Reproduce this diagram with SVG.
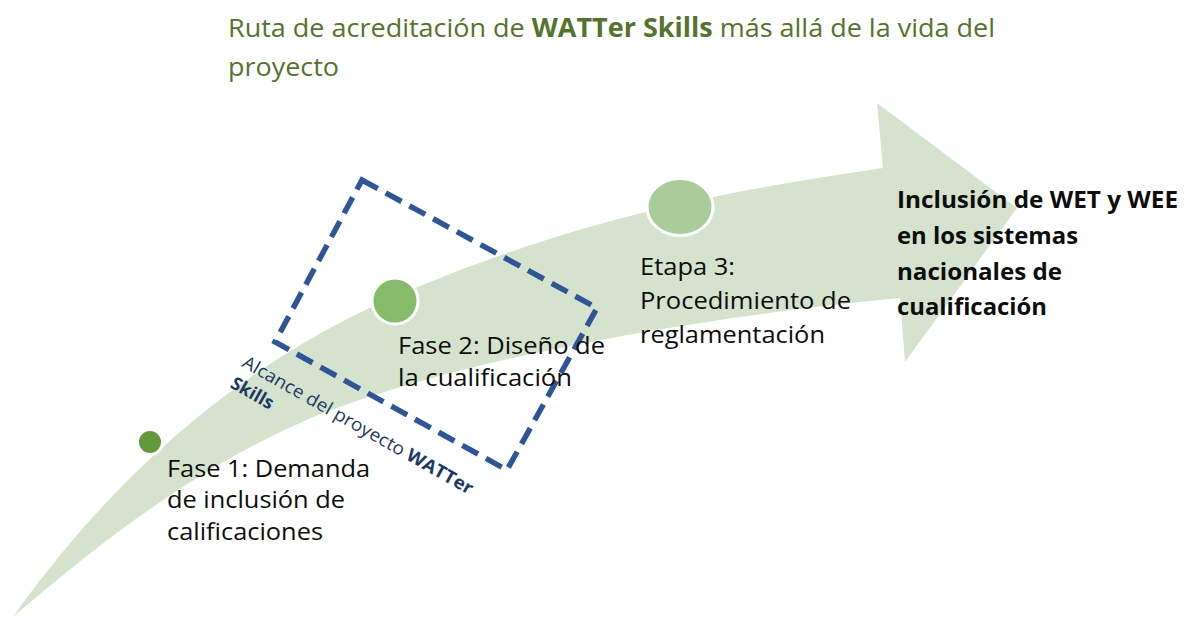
<svg xmlns="http://www.w3.org/2000/svg" width="1189" height="619" viewBox="0 0 1189 619">
<style>
  .t { font-family: "Open Sans", "Noto Sans", "Liberation Sans", sans-serif; font-size: 24px; fill: #0d0d0d; }
  .b { font-weight: bold; }
  .title { fill: #55732E; font-size: 26px; }
  .scope { font-family: "Open Sans", "Noto Sans", "Liberation Sans", sans-serif; font-size: 18px; fill: #203864; }
  .dot { stroke: #ffffff; stroke-width: 3; }
</style>
<rect width="1189" height="619" fill="#ffffff"/>
<g id="connectors">
  <path d="M13,617 C110,480 240,360 410,290 S700,195 883,168 L877,103 L1017,208 L905,362 L900,298 C650,322 420,370 300,423 S80,560 13,617 Z" fill="#D5E3CE"/>
</g>
<g id="scope">
  <polygon points="362,180 597,308 507,470 275,342" fill="none" stroke="#2F5597" stroke-width="5.5" stroke-dasharray="18,9"/>
  <g transform="translate(241,366) rotate(29.5)">
    <text class="scope" x="0" y="0" textLength="262" lengthAdjust="spacingAndGlyphs">Alcance del proyecto <tspan class="b">WATTer</tspan></text>
    <text class="scope b" x="0" y="24">Skills</text>
  </g>
</g>
<g id="title">
  <text class="t title" x="228" y="37" textLength="767" lengthAdjust="spacingAndGlyphs">Ruta de acreditación de <tspan class="b">WATTer Skills</tspan> más allá de la vida del</text>
  <text class="t title" x="228" y="76" textLength="111" lengthAdjust="spacingAndGlyphs">proyecto</text>
</g>
<g id="phase1">
  <circle class="dot" cx="150" cy="442" r="12.5" fill="#63993D"/>
  <text class="t" x="167" y="477" textLength="203" lengthAdjust="spacingAndGlyphs">Fase 1: Demanda</text>
  <text class="t" x="167" y="508" textLength="178" lengthAdjust="spacingAndGlyphs">de inclusión de</text>
  <text class="t" x="167" y="540" textLength="156" lengthAdjust="spacingAndGlyphs">calificaciones</text>
</g>
<g id="phase2">
  <circle class="dot" cx="395" cy="301" r="23" fill="#86BB6A"/>
  <text class="t" x="398" y="354" textLength="207" lengthAdjust="spacingAndGlyphs">Fase 2: Diseño de</text>
  <text class="t" x="398" y="386" textLength="174" lengthAdjust="spacingAndGlyphs">la cualificación</text>
</g>
<g id="stage3">
  <ellipse class="dot" cx="680" cy="207" rx="33" ry="28.5" fill="#A9CC9A"/>
  <text class="t" x="640" y="275" textLength="95" lengthAdjust="spacingAndGlyphs">Etapa 3:</text>
  <text class="t" x="640" y="309" textLength="211" lengthAdjust="spacingAndGlyphs">Procedimiento de</text>
  <text class="t" x="640" y="343" textLength="185" lengthAdjust="spacingAndGlyphs">reglamentación</text>
</g>
<g id="goal">
  <text class="t b" x="897" y="208" textLength="281" lengthAdjust="spacingAndGlyphs">Inclusión de WET y WEE</text>
  <text class="t b" x="897" y="244" textLength="181" lengthAdjust="spacingAndGlyphs">en los sistemas</text>
  <text class="t b" x="897" y="280" textLength="165" lengthAdjust="spacingAndGlyphs">nacionales de</text>
  <text class="t b" x="897" y="315" textLength="150" lengthAdjust="spacingAndGlyphs">cualificación</text>
</g>
</svg>
